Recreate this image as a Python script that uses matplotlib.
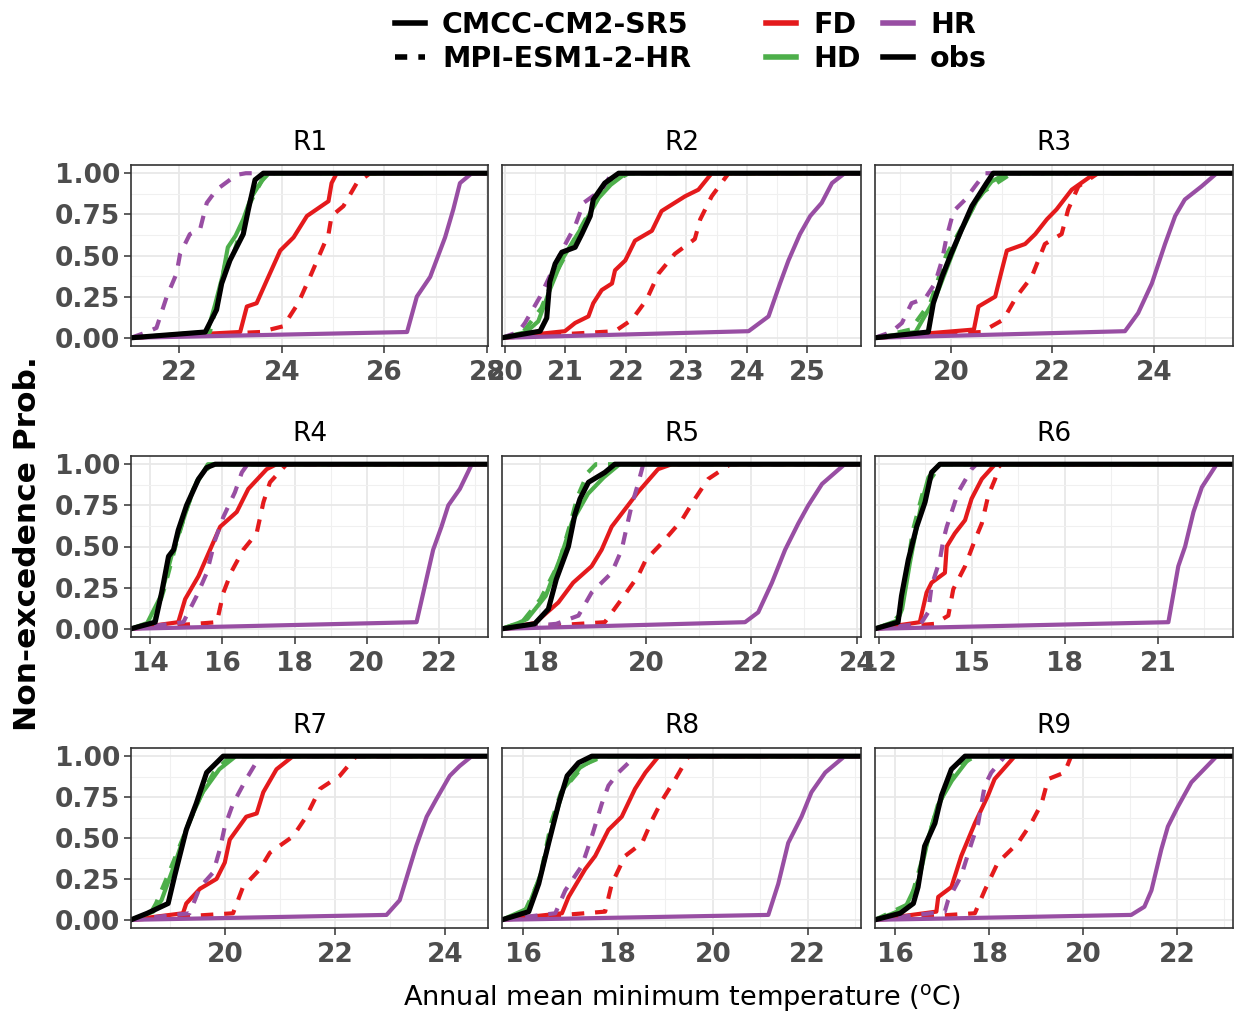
import matplotlib
matplotlib.use('Agg')
import matplotlib.pyplot as plt
from matplotlib.lines import Line2D
from matplotlib.ticker import MultipleLocator

W, H = 1236, 1015
plt.rcParams['font.family'] = ['DejaVu Sans']
plt.rcParams['mathtext.fontset'] = 'dejavusans'

R1_OBS = [(22.51, .035), (22.73, .17), (22.83, .33), (22.99, .47), (23.12, .55), (23.25, .63), (23.35, .78), (23.48, .96), (23.64, 1)]
R1_HD_C = [(22.55, .035), (22.7, .2), (22.85, .38), (22.95, .55), (23.1, .62), (23.25, .72), (23.4, .85), (23.6, .95), (23.75, 1)]
R1_HD_M = [(22.6, .035), (22.75, .22), (22.9, .45), (23.05, .5), (23.2, .65), (23.35, .8), (23.55, .92), (23.7, 1)]
R1_FD_C = [(23.19, .035), (23.32, .19), (23.51, .21), (23.71, .35), (23.97, .53), (24.23, .61), (24.49, .74), (24.91, .83), (24.97, .94), (25.07, 1)]
R1_FD_M = [(23.58, .035), (24.03, .07), (24.32, .21), (24.55, .37), (24.91, .63), (24.97, .74), (25.2, .8), (25.46, .94), (25.72, 1)]
R1_HR_C = [(26.44, .035), (26.63, .25), (26.89, .37), (27.18, .61), (27.34, .78), (27.47, .94), (27.70, 1)]
R1_HR_M = [(21.38, .035), (21.56, .06), (21.76, .25), (21.95, .39), (22.02, .51), (22.21, .63), (22.41, .66), (22.54, .82), (22.73, .9), (23.12, .99), (23.3, 1)]

R2_OBS = [(20.58, .04), (20.69, .12), (20.74, .34), (20.83, .45), (20.94, .52), (21.16, .55), (21.27, .63), (21.41, .74), (21.46, .84), (21.65, .94), (21.88, 1)]
R2_HD_C = [(20.35, .035), (20.55, .1), (20.75, .3), (20.95, .48), (21.15, .6), (21.35, .72), (21.55, .85), (21.75, .93), (22.0, 1)]
R2_HD_M = [(20.3, .035), (20.6, .18), (20.85, .4), (21.15, .6), (21.45, .8), (21.7, .93), (22.05, 1)]
R2_FD_C = [(20.99, .04), (21.16, .09), (21.38, .13), (21.46, .21), (21.6, .29), (21.77, .33), (21.82, .41), (21.99, .47), (22.15, .59), (22.43, .65), (22.59, .77), (22.98, .86), (23.2, .9), (23.42, 1)]
R2_FD_M = [(21.82, .04), (22.1, .11), (22.34, .23), (22.54, .39), (22.81, .51), (23.14, .6), (23.23, .72), (23.42, .86), (23.7, 1)]
R2_HR_C = [(24.03, .04), (24.36, .13), (24.55, .33), (24.69, .47), (24.88, .63), (25.05, .74), (25.24, .82), (25.41, .94), (25.62, 1)]
R2_HR_M = [(20.22, .035), (20.33, .09), (20.58, .25), (20.94, .53), (21.16, .68), (21.3, .82), (21.6, .9), (21.77, 1)]

R3_OBS = [(19.55, .035), (19.65, .21), (19.82, .37), (20.0, .51), (20.21, .66), (20.41, .8), (20.7, .94), (20.83, 1)]
R3_HD_C = [(19.3, .035), (19.7, .25), (19.95, .45), (20.2, .65), (20.5, .83), (20.8, .95), (21.1, 1)]
R3_HD_M = [(19.2, .05), (19.6, .22), (19.9, .5), (20.3, .72), (20.6, .88), (21.2, 1)]
R3_FD_C = [(20.45, .05), (20.54, .19), (20.87, .25), (21.0, .41), (21.1, .53), (21.46, .57), (21.66, .63), (21.89, .72), (22.08, .78), (22.38, .9), (22.84, 1)]
R3_FD_M = [(20.6, .035), (21.03, .11), (21.29, .25), (21.59, .37), (21.85, .57), (22.18, .63), (22.31, .78), (22.51, .92), (22.9, 1)]
R3_HR_C = [(23.43, .04), (23.69, .15), (23.96, .33), (24.22, .57), (24.42, .74), (24.61, .84), (24.94, .92), (25.24, 1)]
R3_HR_M = [(18.82, .035), (19.03, .09), (19.22, .21), (19.49, .24), (19.68, .33), (19.82, .47), (19.91, .61), (20.05, .77), (20.28, .84), (20.47, .92), (20.67, 1)]

R4_OBS = [(14.14, .04), (14.32, .22), (14.51, .44), (14.65, .48), (14.78, .6), (15.01, .75), (15.34, .91), (15.57, .98), (15.8, 1)]
R4_HD_C = [(13.92, .035), (14.3, .2), (14.6, .45), (14.9, .65), (15.2, .85), (15.6, 1)]
R4_HD_M = [(14.1, .04), (14.4, .25), (14.7, .5), (15.0, .72), (15.3, .9), (15.7, 1)]
R4_FD_C = [(14.78, .04), (14.97, .18), (15.34, .32), (15.66, .48), (15.94, .62), (16.4, .71), (16.72, .85), (17.23, .97), (17.5, 1)]
R4_FD_M = [(15.85, .04), (16.03, .22), (16.26, .35), (16.58, .48), (16.95, .58), (17.14, .77), (17.32, .89), (17.78, 1)]
R4_HR_C = [(21.38, .04), (21.61, .26), (21.84, .48), (22.07, .62), (22.26, .75), (22.58, .85), (22.91, 1)]
R4_HR_M = [(14.92, .04), (15.29, .2), (15.57, .34), (15.8, .54), (16.03, .68), (16.35, .83), (16.54, .95), (16.7, 1)]

R5_OBS = [(17.89, .03), (18.15, .12), (18.3, .3), (18.53, .5), (18.65, .69), (18.75, .79), (18.91, .89), (19.22, .95), (19.41, 1)]
R5_HD_C = [(17.58, .035), (17.75, .06), (18.1, .2), (18.4, .45), (18.6, .65), (18.9, .82), (19.2, .92), (19.5, 1)]
R5_HD_M = [(17.65, .04), (18.0, .18), (18.35, .4), (18.55, .62), (18.7, .8), (18.9, .95), (19.05, 1)]
R5_FD_C = [(17.9, .035), (18.02, .07), (18.34, .16), (18.62, .28), (18.97, .38), (19.16, .48), (19.35, .62), (19.66, .75), (19.85, .83), (20.23, .97), (20.49, 1)]
R5_FD_M = [(19.22, .04), (19.54, .18), (19.85, .32), (20.0, .42), (20.3, .52), (20.68, .66), (20.93, .79), (21.18, .91), (21.6, 1)]
R5_HR_C = [(21.88, .04), (22.13, .1), (22.39, .28), (22.64, .48), (22.89, .64), (23.08, .75), (23.34, .88), (23.77, 1)]
R5_HR_M = [(18.3, .03), (18.72, .08), (18.97, .22), (19.35, .34), (19.54, .48), (19.63, .61), (19.73, .75), (19.85, .88), (19.95, 1)]

R6_OBS = [(12.62, .04), (12.73, .2), (12.95, .42), (13.22, .62), (13.49, .77), (13.7, .95), (13.97, 1)]
R6_HD_C = [(12.6, .05), (12.75, .12), (13.0, .4), (13.2, .6), (13.4, .78), (13.6, .92), (13.95, 1)]
R6_HD_M = [(12.40, .035), (12.65, .08), (12.9, .35), (13.1, .6), (13.45, .85), (14.0, 1)]
R6_FD_C = [(13.32, .04), (13.54, .22), (13.7, .28), (14.13, .34), (14.19, .5), (14.45, .58), (14.78, .66), (14.99, .79), (15.32, .91), (15.75, 1)]
R6_FD_M = [(13.8, .03), (14.24, .08), (14.4, .24), (14.78, .38), (15.1, .54), (15.32, .64), (15.53, .81), (15.75, .91), (15.85, .98), (15.95, 1)]
R6_HR_C = [(21.34, .04), (21.66, .38), (21.88, .5), (22.15, .71), (22.42, .86), (22.9, 1)]
R6_HR_M = [(13.35, .03), (13.59, .1), (13.7, .26), (13.97, .42), (14.08, .54), (14.19, .62), (14.56, .83), (14.99, .97), (15.15, 1)]

R7_OBS = [(18.59, .04), (18.97, .1), (19.09, .27), (19.3, .55), (19.48, .71), (19.67, .9), (19.97, 1)]
R7_HD_C = [(18.7, .05), (18.85, .12), (19.1, .35), (19.35, .6), (19.6, .78), (19.9, .92), (20.2, 1)]
R7_HD_M = [(18.65, .04), (18.75, .1), (19.0, .3), (19.3, .55), (19.55, .75), (19.8, .9), (20.1, 1)]
R7_FD_C = [(19.24, .04), (19.3, .1), (19.55, .19), (19.85, .25), (20.0, .35), (20.09, .49), (20.39, .63), (20.58, .65), (20.7, .78), (20.94, .92), (21.24, 1)]
R7_FD_M = [(20.15, .04), (20.33, .2), (20.64, .31), (20.82, .41), (21.24, .51), (21.48, .63), (21.73, .8), (22.09, .88), (22.39, 1)]
R7_HR_C = [(22.94, .03), (23.18, .12), (23.48, .45), (23.67, .63), (23.85, .74), (24.09, .88), (24.27, .94), (24.49, 1)]
R7_HR_M = [(19.36, .04), (19.55, .2), (19.79, .29), (19.91, .43), (20.0, .57), (20.15, .71), (20.39, .86), (20.64, 1)]

R8_OBS = [(16.12, .05), (16.33, .22), (16.54, .47), (16.75, .71), (16.93, .88), (17.17, .96), (17.45, 1)]
R8_HD_C = [(16.1, .07), (16.4, .3), (16.6, .55), (16.85, .8), (17.2, .93), (17.6, 1)]
R8_HD_M = [(15.90, .035), (16.05, .06), (16.35, .25), (16.6, .6), (16.8, .78), (17.3, .95), (17.7, 1)]
R8_FD_C = [(16.82, .04), (16.96, .14), (17.31, .31), (17.52, .39), (17.8, .55), (18.08, .63), (18.36, .8), (18.58, .9), (18.86, 1)]
R8_FD_M = [(17.73, .05), (17.87, .22), (18.15, .39), (18.51, .47), (18.72, .61), (18.93, .73), (19.21, .86), (19.49, 1)]
R8_HR_C = [(21.17, .03), (21.38, .22), (21.59, .47), (21.87, .63), (22.08, .78), (22.37, .9), (22.78, 1)]
R8_HR_M = [(16.68, .04), (16.89, .18), (17.24, .33), (17.45, .51), (17.66, .71), (17.8, .82), (18.01, .9), (18.37, 1)]

R9_OBS = [(16.1, .04), (16.38, .1), (16.48, .2), (16.62, .45), (16.84, .59), (16.98, .76), (17.19, .92), (17.48, 1)]
R9_HD_C = [(15.91, .035), (16.2, .07), (16.5, .25), (16.7, .5), (16.9, .7), (17.2, .85), (17.6, 1)]
R9_HD_M = [(16.3, .1), (16.6, .4), (16.85, .65), (17.1, .82), (17.4, .95), (17.7, 1)]
R9_FD_C = [(16.87, .05), (16.91, .14), (17.19, .2), (17.4, .39), (17.69, .59), (17.97, .76), (18.11, .86), (18.54, 1)]
R9_FD_M = [(17.69, .04), (17.9, .18), (18.18, .35), (18.61, .47), (18.89, .59), (19.11, .71), (19.25, .86), (19.6, .9), (19.74, 1)]
R9_HR_C = [(21.02, .03), (21.3, .08), (21.45, .18), (21.66, .43), (21.8, .57), (22.01, .69), (22.3, .84), (22.84, 1)]
R9_HR_M = [(17.05, .05), (17.12, .12), (17.4, .27), (17.62, .47), (17.76, .59), (17.9, .82), (18.04, .9), (18.33, 1)]

REGIONS = ['R1', 'R2', 'R3', 'R4', 'R5', 'R6', 'R7', 'R8', 'R9']
XTICKS = [[22, 24, 26, 28], [20, 21, 22, 23, 24, 25], [20, 22, 24],
          [14, 16, 18, 20, 22], [18, 20, 22, 24], [12, 15, 18, 21],
          [20, 22, 24], [16, 18, 20, 22], [16, 18, 20, 22]]
YTICKS = [0, 0.25, 0.5, 0.75, 1.0]
SCENARIOS = ['FD', 'HD', 'HR']
MODELS = ['CMCC-CM2-SR5', 'MPI-ESM1-2-HR']

COLORS = {'FD': '#E41A1C', 'HD': '#4DAF4A', 'HR': '#984EA3', 'obs': 'black'}
DASHES = (3.0, 2.6)

# facet boxes in pixels (left, right) / (top, bottom)
COLS = [(131, 488), (502, 861), (875, 1233)]
ROWS = [(165, 346), (456, 637), (748, 928)]

g = globals()
fig = plt.figure(figsize=(W / 100, H / 100), dpi=100)

for i, region in enumerate(REGIONS):
    r, c = divmod(i, 3)
    x0, x1 = COLS[c]
    y0, y1 = ROWS[r]
    ax = fig.add_axes([x0 / W, 1 - y1 / H, (x1 - x0) / W, (y1 - y0) / H])

    series = []
    for sc in SCENARIOS:
        series.append((g[f'{region}_{sc}_C'], COLORS[sc], False, 3.0))
        series.append((g[f'{region}_{sc}_M'], COLORS[sc], True, 3.0))
    series.append((g[f'{region}_OBS'], COLORS['obs'], False, 3.7))

    # ecdf padded to the panel edges, x range expanded 5% like ggplot
    allx = [p[0] for s in series for p in s[0]]
    lo, hi = min(allx), max(allx)
    pad = 0.05 * (hi - lo)
    xlo, xhi = lo - pad, hi + pad

    for pts, col, dashed, lw in series:
        xs = [xlo] + [p[0] for p in pts] + [xhi]
        ys = [0] + [p[1] for p in pts] + [1]
        line, = ax.plot(xs, ys, color=col, lw=lw, solid_joinstyle='round',
                        dash_capstyle='butt')
        if dashed:
            line.set_dashes(DASHES)

    ax.set_xlim(xlo, xhi)
    ax.set_ylim(-0.05, 1.05)
    ticks = XTICKS[i]
    ax.set_xticks(ticks, labels=[str(t) for t in ticks], fontweight='bold')
    ax.xaxis.set_minor_locator(MultipleLocator((ticks[1] - ticks[0]) / 2))
    ax.yaxis.set_minor_locator(MultipleLocator(0.125))
    if c == 0:
        ax.set_yticks(YTICKS, labels=[f'{v:.2f}' for v in YTICKS], fontweight='bold')
    else:
        ax.set_yticks(YTICKS)
        ax.tick_params(axis='y', left=False, labelleft=False)
    ax.tick_params(which='major', length=5, width=1.1, color='#333333',
                   labelsize=19, labelcolor='#4D4D4D', pad=3)
    ax.tick_params(axis='x', pad=5)
    ax.tick_params(which='minor', length=0)
    ax.grid(which='major', color='#E8E8E8', lw=1.3)
    ax.grid(which='minor', color='#F0F0F0', lw=0.8)
    ax.set_axisbelow(True)
    for sp in ax.spines.values():
        sp.set_color('#333333')
        sp.set_linewidth(1.2)
    ax.set_title(region, fontsize=19, pad=11)

fig.text(28 / W, 1 - 544 / H, 'Non-excedence Prob.', rotation=90, fontsize=22.5,
         fontweight='bold', ha='center', va='center')
fig.text(682 / W, 1 - 998 / H, 'Annual mean minimum temperature ($^{\\mathrm{o}}$C)',
         fontsize=19.5, ha='center', va='center')

lt_handles = [Line2D([], [], color='black', lw=4),
              Line2D([], [], color='black', lw=4, dashes=(2.2, 2.0))]
fig.legend(lt_handles, MODELS, loc='upper left', bbox_to_anchor=(395 / W, 1 - 11 / H),
           frameon=False, prop={'weight': 'bold', 'size': 20.5},
           handlelength=1.05, handletextpad=0.6, labelspacing=0.2,
           borderpad=0, borderaxespad=0)

col_labels = ['FD', 'HD', 'HR', 'obs']
col_handles = [Line2D([], [], color=COLORS[k], lw=4) for k in col_labels]
fig.legend(col_handles, col_labels, loc='upper left', bbox_to_anchor=(766 / W, 1 - 11 / H),
           ncol=2, frameon=False, prop={'weight': 'bold', 'size': 20.5},
           handlelength=1.05, handletextpad=0.6, labelspacing=0.2, columnspacing=0.8,
           borderpad=0, borderaxespad=0)

fig.savefig('out.png', dpi=100)
